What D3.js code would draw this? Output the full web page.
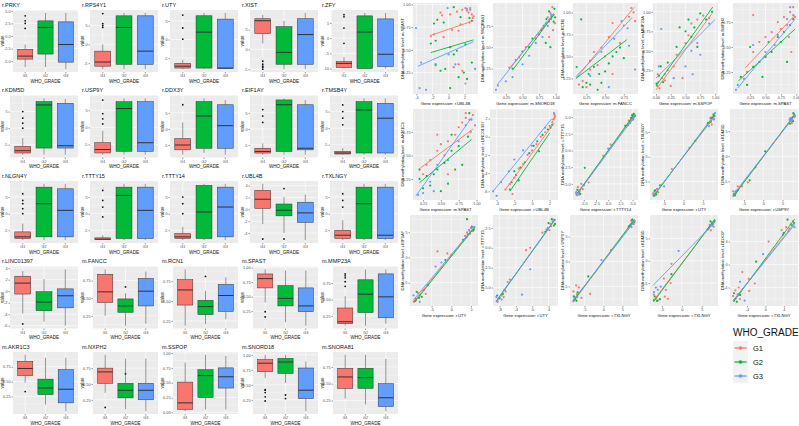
<!DOCTYPE html>
<html>
<head>
<meta charset="utf-8">
<script src="https://cdn.jsdelivr.net/npm/d3@7"></script>
<style>
  body { margin: 0; background: #fff; }
  svg { display: block; font-family: "Liberation Sans", Arial, sans-serif; }
</style>
</head>
<body>
<svg id="chart" width="799" height="426"></svg>
<script>
// ---- data ----
const groups = ["G1", "G2", "G3"];
const groupColors = ["#F8766D", "#00BA38", "#619CFF"];

const boxTitles = [
  "r.PRKY", "r.RPS4Y1", "r.UTY", "r.XIST", "r.ZFY",
  "r.KDM5D", "r.USP9Y", "r.DDX3Y", "r.EIF1AY", "r.TMSB4Y",
  "r.NLGN4Y", "r.TTTY15", "r.TTTY14", "r.UBL4B", "r.TXLNGY",
  "r.LINC01397", "m.FANCC", "m.RCN1", "m.SPAST", "m.MMP23A",
  "m.AKR1C3", "m.NXPH2", "m.SSPOP", "m.SNORD18", "m.SNORA81"
];

const boxTicks = [
  ["-5.0", "-2.5", "0.0", "2.5", "5.0"], ["-5", "0", "5"], ["-5", "0", "5"], ["-5", "0", "5", "10"], ["-10", "-5", "0", "5"],
  ["-5", "0", "5"], ["-5", "0", "5"], ["-5", "0", "5"], ["-5", "0", "5"], ["-5", "0", "5"],
  ["-5", "0", "5"], ["-5", "0", "5"], ["-5", "0", "5"], ["-4", "-2", "0", "2", "4"], ["-5", "0", "5"],
  ["-6", "-4", "-2", "0", "2", "4"], ["0.25", "0.50", "0.75"], ["0.25", "0.50", "0.75"], ["0.25", "0.50", "0.75", "1.00"], ["0.25", "0.50", "0.75"],
  ["0.25", "0.50", "0.75"], ["0.25", "0.50", "0.75"], ["0.00", "0.25", "0.50", "0.75", "1.00"], ["0.25", "0.50", "0.75", "1.00"], ["0.25", "0.50", "0.75"]
];

// [min whisker, q1, median, q3, max whisker] for G1, G2, G3
const boxStats = [
  [[-6.2, -4.6, -4.0, -2.65, -1.7], [-6.2, -3.6, 1.7, 3.0, 4.6], [-6.6, -5.2, -1.7, 2.8, 4.6]],
  [[-6.6, -5.8, -4.7, -1.8, 0.0], [-6.6, -5.3, 4.5, 7.6, 8.4], [-6.6, -5.3, -1.8, 7.6, 8.4]],
  [[-8, -7.7, -7.2, -6.4, -5.5], [-8, -7.7, 2, 6.4, 7.2], [-8, -7.8, -7.7, 5.5, 7.2]],
  [[1.5, 4, 7.25, 7.75, 8.75], [-5, -3.75, -0.75, 5.75, 7.2], [-5, -3.75, 3.75, 7.75, 9.25]],
  [[-10, -9.7, -8.3, -7.7, -6.3], [-10.2, -10, 2, 7.3, 8.3], [-10, -9.3, -5.3, 6.3, 8.3]],
  [[-8, -7.5, -6.8, -5.5, -3], [-8, -6, 7, 8, 9], [-8, -6, -5.3, 7.5, 8.8]],
  [[-8, -7.5, -6.5, -4.5, -1], [-8, -7, 5.5, 7.5, 8.5], [-8, -7, -4.5, 7.5, 8.5]],
  [[-8, -6.5, -5, -3, 2], [-7.5, -6, 4, 8.5, 9.5], [-8, -6, 1, 7.5, 9]],
  [[-8, -7.5, -7, -6, -4.5], [-8, -7, 7.5, 9, 9.5], [-8, -6.5, -6, 7.5, 9]],
  [[-8, -7.8, -7.5, -7, -6], [-8, -7.5, 5.5, 8, 9], [-8, -7.5, 3, 7.5, 9]],
  [[-8, -7.5, -7, -5.5, -3], [-8, -7, 3, 8, 9], [-8, -7, 1, 7.5, 9]],
  [[-8, -7.8, -7.7, -7.3, -6.5], [-8, -7.5, 5.5, 8, 9], [-8, -7.5, 1, 8, 9]],
  [[-8, -7.5, -7, -6, -4], [-8, -7.5, 0.5, 8.5, 9], [-8, -7, 2, 8, 9]],
  [[-2.5, 0.15, 1.7, 3.2, 4.3], [-4, -1.1, -0.15, 0.9, 2.1], [-5.2, -2.2, -0.6, 1.2, 2.5]],
  [[-8, -7.5, -6.5, -5, -2], [-8, -7.5, 3, 8, 9], [-8, -7.5, -6.5, 8, 9]],
  [[-3.9, -0.5, 1.4, 2.6, 3.5], [-5.3, -3.4, -1.9, -0.1, 2.1], [-6, -2.9, -0.8, 0.4, 3.8]],
  [[0.25, 0.44, 0.59, 0.84, 0.91], [0.11, 0.30, 0.39, 0.49, 0.57], [0.14, 0.39, 0.60, 0.78, 0.88]],
  [[0.19, 0.45, 0.64, 0.77, 0.90], [0.21, 0.33, 0.43, 0.51, 0.63], [0.27, 0.37, 0.57, 0.71, 0.80]],
  [[0.40, 0.65, 0.81, 0.89, 0.97], [0.06, 0.34, 0.47, 0.69, 0.95], [0.0, 0.24, 0.34, 0.65, 0.95]],
  [[0.10, 0.13, 0.16, 0.37, 0.55], [0.10, 0.30, 0.58, 0.80, 0.96], [0.13, 0.22, 0.54, 0.89, 0.96]],
  [[0.48, 0.60, 0.72, 0.84, 0.95], [0.11, 0.28, 0.39, 0.54, 0.90], [0.0, 0.14, 0.37, 0.70, 0.90]],
  [[0.36, 0.51, 0.69, 0.75, 0.96], [0.10, 0.28, 0.40, 0.51, 0.90], [0.07, 0.25, 0.40, 0.51, 0.90]],
  [[0.02, 0.05, 0.16, 0.51, 0.84], [0.05, 0.25, 0.62, 0.72, 0.97], [0.05, 0.41, 0.60, 0.75, 0.95]],
  [[0.61, 0.72, 0.86, 0.92, 1.0], [0.53, 0.69, 0.88, 0.94, 1.0], [0.06, 0.27, 0.41, 0.78, 0.89]],
  [[0.28, 0.43, 0.60, 0.73, 0.93], [0.19, 0.43, 0.59, 0.73, 0.93], [0.09, 0.16, 0.29, 0.50, 0.87]]
];

const boxOutliers = [
  [[4.0, 3.0, 2.5, 1.5], [], []],
  [[8.2, 5.5, 5.0, 4.5], [], []],
  [[6.6, 3.1, 0.1], [], []],
  [[-3, -3.75, -4.25, -4.5, -5], [], []],
  [[7.7, 7.0, 3.3, -1.7], [], []],
  [[5, 3, 1.5, 0], [], []],
  [[8, 4, 2.5, 1], [], []],
  [[7.5], [], []],
  [[6, 4, 2], [], []],
  [[7, 5, 3, 1], [], []],
  [[6, 4, 3, 1.5, 0], [], []],
  [[7, 4, 2, -1], [], []],
  [[5, 3, 0], [], []],
  [[-5.0], [3.5, -5], []],
  [[6, 4, 2], [], []],
  [[-5.7], [], []],
  [[], [0.66], []],
  [[], [0.81], []],
  [[0.24, 0.15], [], []],
  [[0.89, 0.86, 0.83, 0.77, 0.70], [], []],
  [[0.33], [], []],
  [[0.13], [0.66], []],
  [[], [], []],
  [[0.42, 0.41, 0.37, 0.30, 0.23], [0.33, 0.27], []],
  [[], [], []]
];

const scatterYNames = [
  "m.SPAST", "m.SNORA81", "m.RCN1", "m.MMP23A", "m.NXPH2",
  "m.AKR1C3", "r.LINC01397", "r.TTTY15", "r.TXLNGY", "r.KDM5D",
  "r.EIF1AY", "r.TTTY15", "r.USP9Y", "r.KDM5D", "r.DDX3Y"
];
const scatterXNames = [
  "r.UBL4B", "m.SNORD18", "m.FANCC", "m.SSPOP", "m.SPAST",
  "m.SPAST", "r.UBL4B", "r.TTTY14", "r.UTY", "r.USP9Y",
  "r.UTY", "r.UTY", "r.TXLNGY", "r.TXLNGY", "r.TXLNGY"
];
const scatterXTicks = [
  ["-4", "-2", "0", "2"], ["0.25", "0.50", "0.75", "1.00"], ["0.25", "0.50", "0.75"], ["0.00", "0.25", "0.50", "0.75", "1.00"], ["0.25", "0.50", "0.75", "1.00"],
  ["0.25", "0.50", "0.75", "1.00"], ["-4", "-2", "0", "2"], ["-5.0", "-2.5", "0.0", "2.5", "5.0"], ["-5", "0", "5"], ["-5", "0", "5"],
  ["-5", "0", "5"], ["-8", "-4", "0", "4"], ["-5", "0", "5"], ["-5", "0", "5"], ["-4", "0", "4"]
];
const scatterYTicks = [
  ["0.25", "0.50", "0.75", "1.00"], ["0.25", "0.50", "0.75"], ["0.25", "0.50", "0.75", "1.00"], ["0.25", "0.50", "0.75", "1.00"], ["0.25", "0.50", "0.75"],
  ["0.25", "0.50", "0.75"], ["-6", "-4", "-2", "0", "2"], ["-5.0", "-2.5", "0.0", "2.5", "5.0"], ["-5", "0", "5"], ["-5", "0", "5"],
  ["-5", "0", "5"], ["-5.0", "-2.5", "0.0", "2.5"], ["-5", "0", "5"], ["-5", "0", "5"], ["-4", "0", "4"]
];

// [gene expression, methylation, group index]
const scatterPoints = [
  [[-1.0,0.91,0],[-0.8,0.88,0],[0.2,0.89,0],[1.05,0.92,0],[1.7,0.94,0],[2.3,0.93,0],[2.5,0.91,0],[2.9,0.89,0],[3.1,0.87,0],[2.7,0.96,0],[2.1,0.96,0],[-1.8,0.67,0],[-2.2,0.65,0],[0.45,0.72,0],[1.25,0.71,0],[1.5,0.78,0],[-0.6,0.64,0],[1.25,0.34,0],[0.65,0.31,0],[1.7,0.27,0],[2.1,0.13,0],[3.0,0.85,0],[2.6,0.80,0],
   [0.65,0.97,1],[-1.4,0.83,1],[-0.6,0.80,1],[1.5,0.86,1],[2.6,0.85,1],[-1.8,0.79,1],[2.9,0.82,1],[-1.6,0.60,1],[-2.2,0.57,1],[0.2,0.53,1],[0.65,0.45,1],[1.05,0.49,1],[2.1,0.56,1],[2.9,0.36,1],[-1.6,0.34,1],[-1.0,0.27,1],[-0.4,0.29,1],[0.2,0.08,1],[1.9,0.25,1],[2.3,0.18,1],[1.25,0.20,1],
   [-0.1,0.96,2],[2.3,0.95,2],[2.7,0.94,2],[-4.05,0.74,2],[-3.4,0.36,2],[-2.8,0.06,2],[0.0,0.45,2],[0.85,0.34,2],[3.3,0.29,2],[-1.6,0.33,2],[-3.6,0.08,2]],
  [[0.95,0.97,0],[0.92,0.9,0],[0.88,0.85,0],[0.97,0.88,0],[0.9,0.8,0],[0.85,0.78,0],[0.93,0.83,0],[0.8,0.72,0],[0.75,0.65,0],[0.7,0.6,0],[0.55,0.5,0],[0.45,0.38,0],[0.3,0.26,0],[0.96,0.7,0],[0.9,0.62,0],[0.99,0.78,0],
   [0.98,0.95,1],[0.94,0.86,1],[0.9,0.92,1],[0.86,0.83,1],[0.97,0.8,1],[0.82,0.75,1],[0.78,0.7,1],[0.65,0.6,1],[0.6,0.5,1],[0.5,0.45,1],[0.4,0.35,1],[0.35,0.25,1],[0.99,0.85,1],[0.85,0.55,1],[0.92,0.5,1],
   [0.93,0.88,2],[0.88,0.75,2],[0.7,0.55,2],[0.5,0.3,2],[0.35,0.15,2],[0.13,0.05,2],[0.1,0.0,2],[0.25,0.1,2],[0.6,0.4,2],[0.8,0.62,2]],
  [[0.85,1.05,0],[0.88,1.0,0],[0.82,0.95,0],[0.9,0.9,0],[0.6,0.88,0],[0.55,0.72,0],[0.75,0.85,0],[0.45,0.6,0],[0.35,0.55,0],[0.4,0.4,0],[0.3,0.35,0],[0.2,0.22,0],[0.25,0.15,0],[0.6,0.3,0],[0.7,0.65,0],[0.5,0.5,0],[0.15,0.18,0],
   [0.18,0.92,1],[0.3,0.45,1],[0.35,0.38,1],[0.42,0.3,1],[0.5,0.33,1],[0.55,0.42,1],[0.6,0.5,1],[0.65,0.55,1],[0.7,0.6,1],[0.25,0.2,1],[0.2,0.15,1],[0.3,0.18,1],[0.4,0.12,1],[0.45,0.2,1],[0.12,0.38,1],[0.75,0.48,1],[0.28,0.3,1],
   [0.72,0.9,2],[0.8,0.82,2],[0.62,0.7,2],[0.45,0.55,2],[0.3,0.28,2],[0.9,0.35,2],[0.55,0.15,2],[0.82,0.62,2]],
  [[0.02,0.05,0],[0.04,0.1,0],[0.06,0.02,0],[0.1,0.15,0],[0.03,0.2,0],[0.15,0.12,0],[0.2,0.25,0],[0.3,0.3,0],[0.35,0.45,0],[0.5,0.6,0],[0.55,0.7,0],[0.6,0.85,0],[0.7,0.9,0],[0.8,0.95,0],[0.9,0.92,0],[0.45,0.15,0],[0.25,0.05,0],
   [0.01,0.08,1],[0.05,0.18,1],[0.08,0.3,1],[0.12,0.1,1],[0.35,0.55,1],[0.4,0.8,1],[0.5,0.75,1],[0.6,0.68,1],[0.65,0.8,1],[0.7,0.55,1],[0.85,0.9,1],[0.95,1.0,1],[0.75,0.98,1],[0.55,0.9,1],[0.2,0.35,1],
   [0.09,0.78,2],[0.05,0.3,2],[0.3,0.15,2],[0.5,0.3,2],[0.6,0.5,2],[0.7,0.6,2],[0.75,0.45,2],[0.9,0.85,2],[0.62,0.2,2],[0.15,0.2,2]],
  [[0.2,0.25,0],[0.3,0.45,0],[0.4,0.55,0],[0.5,0.6,0],[0.6,0.65,0],[0.7,0.75,0],[0.75,0.68,0],[0.8,0.8,0],[0.85,0.72,0],[0.9,0.85,0],[0.95,0.9,0],[0.98,0.8,0],[0.88,0.6,0],[0.92,0.45,0],[0.3,0.82,0],[0.65,0.52,0],
   [0.1,0.2,1],[0.2,0.12,1],[0.3,0.3,1],[0.4,0.35,1],[0.5,0.4,1],[0.55,0.55,1],[0.6,0.45,1],[0.7,0.6,1],[0.75,0.55,1],[0.8,0.65,1],[0.9,0.72,1],[0.95,0.78,1],[0.45,0.2,1],[0.25,0.5,1],[0.85,0.35,1],
   [0.02,0.07,2],[0.05,0.12,2],[0.15,0.18,2],[0.3,0.52,2],[0.5,0.45,2],[0.7,0.62,2],[0.85,0.78,2],[0.95,0.82,2],[0.9,0.9,2]],
  [[0.95,0.93,0],[0.9,0.88,0],[0.85,0.9,0],[0.8,0.85,0],[0.75,0.8,0],[0.98,0.82,0],[0.92,0.75,0],[0.7,0.72,0],[0.6,0.65,0],[0.5,0.62,0],[0.45,0.55,0],[0.55,0.5,0],[0.35,0.45,0],[0.3,0.4,0],[0.25,0.3,0],[0.6,0.3,0],[0.85,0.95,0],[0.45,0.72,0],
   [0.9,0.95,1],[0.88,0.7,1],[0.75,0.6,1],[0.65,0.55,1],[0.55,0.42,1],[0.45,0.35,1],[0.4,0.3,1],[0.3,0.28,1],[0.2,0.25,1],[0.25,0.15,1],[0.35,0.18,1],[0.5,0.12,1],[0.6,0.2,1],[0.7,0.35,1],[0.8,0.4,1],[0.2,0.35,1],[0.65,0.72,1],
   [0.93,0.88,2],[0.85,0.82,2],[0.6,0.45,2],[0.45,0.4,2],[0.35,0.22,2],[0.25,0.1,2],[0.18,0.08,2],[0.4,0.12,2],[0.75,0.65,2]],
  [[2.5,2.0,0],[2.3,1.6,0],[2.6,2.2,0],[2.0,1.2,0],[1.5,0.5,0],[1.0,0,0],[0.5,-0.8,0],[0,-1.5,0],[-0.5,-2,0],[-1,-3,0],[-1.5,-3.5,0],[-2,-4.5,0],[-2.5,-5.2,0],[-3,-5.8,0],[-2.2,-6.3,0],[2.4,1.9,0],[2.55,2.4,0],
   [2.3,1.3,1],[1.8,0.8,1],[1.2,0.2,1],[0.6,-0.5,1],[0.2,-1,1],[-0.3,-1.8,1],[-0.8,-2.8,1],[-1.3,-3.4,1],[-1.8,-4.2,1],[-2.3,-5,1],[-2.5,-5.8,1],[-1.5,-4.8,1],[0.8,-1.6,1],[2.1,1.0,1],[-2.0,-3.8,1],
   [2.5,2.6,2],[1.5,1.0,2],[-1,-1.5,2],[-2,-2.5,2],[-3.5,-5,2],[-4.4,-6,2],[-4,-6.5,2],[0,-1,2],[-2.6,-3.8,2]],
  [[5.0,5.1,0],[4.6,4.4,0],[4.8,4.9,0],[5.3,5.0,0],[4.2,4.5,0],[0.5,0.9,0],[-1,-0.8,0],[-5.8,-6.0,0],[-6.2,-5.5,0],[-5.5,-5.0,0],[-6.5,-6.2,0],[-4.0,-4.8,0],[-6.0,-6.6,0],[-5.2,-5.8,0],[4.9,4.6,0],
   [5.2,5.5,1],[4.7,4.9,1],[4.4,4.1,1],[5.5,5.2,1],[4.9,5.3,1],[4.0,3.8,1],[-4.8,-2.6,1],[-6.0,-6.3,1],[-6.3,-5.9,1],[-5.7,-6.5,1],[-5.0,-5.2,1],[3.5,3.7,1],[5.1,4.7,1],
   [5.3,5.0,2],[4.5,4.3,2],[5.0,4.6,2],[-6.4,-6.7,2],[-5.9,-6.1,2],[-6.6,-6.4,2],[0.0,0.3,2]],
  [[7.5,8.0,0],[7.0,7.2,0],[7.8,7.6,0],[6.8,7.8,0],[7.2,6.5,0],[6.5,6.8,0],[1.5,1.8,0],[-7.5,-7.0,0],[-7.2,-7.8,0],[-6.8,-6.5,0],[-7.8,-7.4,0],[-6.5,-7.2,0],[-3.0,-2.5,0],
   [7.6,8.5,1],[7.1,7.9,1],[6.9,7.0,1],[7.9,8.2,1],[6.2,6.8,1],[3.0,3.2,1],[-7.0,-7.6,1],[-7.6,-7.9,1],[-6.0,-5.8,1],[-7.3,-6.8,1],
   [7.7,7.5,2],[8.0,8.8,2],[7.3,7.8,2],[6.5,6.2,2],[-7.4,-7.5,2],[-6.9,-7.1,2],[-7.7,-7.8,2],[-5.0,-6.0,2]],
  [[7.6,7.8,0],[7.2,7.0,0],[8.0,8.4,0],[6.8,7.3,0],[7.4,6.6,0],[-7.5,-7.6,0],[-7.0,-7.3,0],[-6.6,-6.0,0],[-7.8,-7.0,0],[-5.5,-6.0,0],[-4.0,-5.2,0],
   [7.8,8.6,1],[7.3,7.5,1],[8.1,7.9,1],[6.9,6.5,1],[7.7,7.0,1],[-7.3,-7.8,1],[-7.6,-7.5,1],[-6.8,-6.9,1],[-3.5,-4.8,1],[0.5,1.0,1],
   [7.9,8.3,2],[7.5,7.3,2],[8.2,8.0,2],[7.0,7.6,2],[-7.2,-7.0,2],[-7.7,-7.9,2],[-6.5,-6.7,2],[-2.0,-2.2,2]],
  [[4,5,0],[4.5,5.5,0],[5,5.8,0],[3.5,4.3,0],[5.5,5.2,0],[4.8,4.7,0],[-3.5,1.2,0],[0,0.5,0],[-1,0.8,0],[-8,-7.5,0],[-9,-8.5,0],[-7,-6.5,0],[-8.5,-7.0,0],[-9.5,-8.8,0],[-6.5,-7.2,0],[5.8,6.0,0],
   [4,7.6,1],[4.2,4.6,1],[5.2,6.1,1],[3,3.5,1],[5.7,5.5,1],[-1.5,-0.5,1],[-8.2,-8.0,1],[-9.2,-8.6,1],[-7.5,-7.8,1],[-6,-5.5,1],[-8.8,-6.8,1],
   [4.6,5.3,2],[5.4,6.0,2],[3.8,4.0,2],[-2.5,-1,2],[-4,-1.8,2],[-9,-8.2,2],[-8,-8.8,2],[-9.6,-7.5,2]],
  [[4.5,3.0,0],[5,3.3,0],[3.8,2.5,0],[5.5,3.5,0],[4.2,2.2,0],[2.5,1.9,0],[-0.5,0.0,0],[-1.5,-0.3,0],[-5.5,-4.0,0],[-6.5,-5.5,0],[-7.5,-6.0,0],[-8.3,-6.5,0],[-7,-6.2,0],[-8.7,-6.7,0],[-6,-4.3,0],
   [4.8,3.6,1],[5.3,2.8,1],[4.0,3.1,1],[3.2,2.0,1],[5.6,3.0,1],[-7.2,-5.8,1],[-8,-6.3,1],[-8.6,-6.0,1],[-6.8,-5.3,1],
   [4.6,2.7,2],[5.2,3.5,2],[3.5,2.3,2],[-0.5,-2.7,2],[-2.5,-5.9,2],[-7.5,-6.5,2],[-8.5,-6.8,2],[-8.8,-6.2,2]],
  [[7.5,7.8,0],[7.0,7.2,0],[8.0,7.5,0],[6.6,6.9,0],[7.3,8.2,0],[2.0,2.3,0],[-7.5,-7.2,0],[-7.0,-6.6,0],[-7.8,-7.8,0],[-6.5,-5.2,0],[-7.2,-4.8,0],[-5.8,-7.3,0],[-3.5,-6.5,0],[-7.9,-6.0,0],
   [7.6,8.4,1],[7.2,7.4,1],[8.1,7.9,1],[6.8,7.1,1],[-7.4,-7.6,1],[-7.8,-7.0,1],[-6.8,-6.2,1],[-7.1,-7.9,1],[-4.0,-3.0,1],
   [7.8,7.6,2],[7.4,6.9,2],[8.2,8.1,2],[-0.5,0.3,2],[-7.6,-7.4,2],[-6.9,-7.1,2],[-7.9,-8.0,2]],
  [[7.0,8.0,0],[7.5,8.5,0],[6.8,7.2,0],[8.0,7.6,0],[7.3,6.8,0],[-2.6,-0.7,0],[-4.5,-4,0],[-4,-6.5,0],[-4.3,-8,0],[-3.5,-8.5,0],[-2.8,-5,0],[-6.5,-8.5,0],[-7,-7.6,0],[-6,-8.9,0],
   [7.2,8.8,1],[7.8,8.2,1],[6.5,7.0,1],[8.2,8.9,1],[-2.6,-3,1],[-7.0,-8.8,1],[-6.2,-9,1],[-5.5,-8.6,1],[-6.8,-8.0,1],
   [7.6,7.8,2],[8.1,8.6,2],[6.9,7.5,2],[-0.8,2.2,2],[-6.5,-6,2],[-6,-6.5,2],[-7,-7.0,2],[-5.3,-5.8,2]],
  [[4.5,6.5,0],[5.5,7.0,0],[6.0,7.5,0],[3.5,6.0,0],[5.0,5.8,0],[0.7,4.0,0],[-5,-1.3,0],[-3.6,-2.5,0],[-2.3,-3.3,0],[-6.5,-4.5,0],[-6,-5.2,0],[-5.5,-6,0],[-7,-5.5,0],[-6.8,-6.3,0],[-5.8,-4,0],[-3.5,-4.6,0],
   [4.8,7.8,1],[5.8,6.8,1],[6.2,7.2,1],[4.0,5.5,1],[-2.0,0.5,1],[-6.8,-5.0,1],[-6.2,-6.5,1],[-5.5,-5.3,1],
   [5.2,6.2,2],[6.3,6.5,2],[3.8,5.2,2],[-0.5,1.8,2],[-5.5,-3,2],[-4.5,-6.3,2],[-6.5,-6.0,2]]
];

// fitted line ends per group: [x1, y1, x2, y2]
const scatterLines = [
  [[-2.2, 0.66, 3.1, 0.82], [-2.2, 0.47, 3.1, 0.61], [-3.8, 0.32, 3.1, 0.59]],
  [[0.31, 0.26, 0.97, 0.88], [0.35, 0.23, 0.97, 0.88], [0.12, 0.06, 0.97, 0.9]],
  [[0.11, 0.25, 0.89, 1.06], [0.11, 0.25, 0.79, 0.69], [0.11, 0.27, 0.86, 0.94]],
  [[0, 0.0, 0.95, 0.98], [0, 0.05, 0.96, 1.06], [0, 0.15, 1.0, 0.9]],
  [[0.17, 0.29, 0.98, 0.82], [0.06, 0.16, 0.98, 0.68], [0.05, 0.09, 0.98, 0.78]],
  [[0.2, 0.36, 0.95, 0.78], [0.2, 0.21, 0.93, 0.67], [0.15, 0.07, 0.93, 0.9]],
  [[-3.0, -5.8, 2.5, 1.5], [-2.5, -6.0, 2.0, 0.4], [-4.4, -6.0, 2.25, 2.0]],
  [[-6.5, -6.6, 5.5, 5.4], [-6.3, -6.4, 5.5, 5.6], [-6.6, -6.8, 5.3, 5.0]],
  [[-7.8, -7.9, 7.8, 8.0], [-7.6, -7.9, 7.9, 8.5], [-7.7, -7.8, 8.0, 8.3]],
  [[-7.8, -7.9, 8.1, 8.0], [-7.6, -7.9, 8.2, 8.4], [-7.7, -7.6, 8.2, 8.2]],
  [[-9.5, -8.7, 6, 6.1], [-9.3, -8.8, 6, 6.0], [-9.7, -8.5, 6, 6.2]],
  [[-8.8, -6.7, 5.6, 3.5], [-8.7, -6.6, 5.6, 3.6], [-8.9, -6.8, 5.5, 3.5]],
  [[-8, -8.1, 8.2, 8.2], [-7.9, -7.9, 8.2, 8.5], [-8, -7.8, 8.3, 8.1]],
  [[-7.2, -9.0, 8.2, 9.0], [-7.1, -9.2, 8.3, 9.3], [-7.2, -5.5, 8.2, 8.5]],
  [[-7, -6.3, 6.4, 7.3], [-6.9, -6.5, 6.3, 7.9], [-6.9, -6.2, 6.4, 7.0]]
];

// ---- drawing ----
const svg = d3.select("#chart");
const panelFill = "#EBEBEB";
const ink = "#333333";

function padded(ext) {
  const r = ext[1] - ext[0];
  return [ext[0] - r * 0.05, ext[1] + r * 0.05];
}

function inside(vals, domain) {
  return vals.filter((v) => v >= domain[0] - 1e-9 && v <= domain[1] + 1e-9);
}

function minorValues(vals, domain) {
  if (vals.length < 2) return [];
  const step = vals[1] - vals[0];
  return d3.range(vals[0] - step / 2, domain[1], step).filter((v) => v >= domain[0]);
}

function styleAxis(sel) {
  sel.select(".domain").remove();
  sel.attr("font-family", null).attr("font-size", null);
  sel.selectAll(".tick line").attr("stroke", ink).attr("stroke-width", 0.5);
  sel.selectAll(".tick text").attr("fill", "#4D4D4D").attr("font-size", 3.8);
}

function labelAxis(scale, labels, orient) {
  const vals = labels.map(Number);
  const keep = inside(vals, scale.domain());
  const gen = orient === "left" ? d3.axisLeft(scale) : d3.axisBottom(scale);
  return gen
    .tickValues(keep)
    .tickFormat((d) => labels[vals.indexOf(d)])
    .tickSize(1.5)
    .tickPadding(1);
}

function drawBoxPanel(i) {
  const col = i % 5, row = Math.floor(i / 5);
  const cx = col * 80, cy = row * 85.5;
  const labels = boxTicks[i];
  const left = cx + 7 + d3.max(labels, (d) => d.length) * 1.5;
  const right = cx + 78, top = cy + 10, bottom = cy + 72;

  const all = boxStats[i].flat().concat(boxOutliers[i].flat());
  const y = d3.scaleLinear().domain(padded(d3.extent(all))).range([bottom, top]);
  const x = d3.scaleBand().domain(groups).range([left, right])
    .paddingInner(0.25).paddingOuter(0.225);

  const g = svg.append("g");
  g.append("rect").attr("x", left).attr("y", top)
    .attr("width", right - left).attr("height", bottom - top).attr("fill", panelFill);

  const major = inside(labels.map(Number), y.domain());
  g.selectAll(".minor").data(minorValues(major, y.domain())).enter().append("line")
    .attr("x1", left).attr("x2", right).attr("y1", (d) => y(d)).attr("y2", (d) => y(d))
    .attr("stroke", "#fff").attr("stroke-width", 0.3);
  g.selectAll(".majorY").data(major).enter().append("line")
    .attr("x1", left).attr("x2", right).attr("y1", (d) => y(d)).attr("y2", (d) => y(d))
    .attr("stroke", "#fff").attr("stroke-width", 0.6);
  g.selectAll(".majorX").data(groups).enter().append("line")
    .attr("x1", (d) => x(d) + x.bandwidth() / 2).attr("x2", (d) => x(d) + x.bandwidth() / 2)
    .attr("y1", top).attr("y2", bottom)
    .attr("stroke", "#fff").attr("stroke-width", 0.6);

  // boxes
  boxStats[i].forEach((s, k) => {
    const gx = x(groups[k]), mid = gx + x.bandwidth() / 2;
    g.append("line").attr("x1", mid).attr("x2", mid).attr("y1", y(s[0])).attr("y2", y(s[1]))
      .attr("stroke", ink).attr("stroke-width", 0.5);
    g.append("line").attr("x1", mid).attr("x2", mid).attr("y1", y(s[3])).attr("y2", y(s[4]))
      .attr("stroke", ink).attr("stroke-width", 0.5);
    g.append("rect").attr("x", gx).attr("width", x.bandwidth())
      .attr("y", y(s[3])).attr("height", Math.max(0.5, y(s[1]) - y(s[3])))
      .attr("fill", groupColors[k]).attr("stroke", ink).attr("stroke-width", 0.5);
    g.append("line").attr("x1", gx).attr("x2", gx + x.bandwidth())
      .attr("y1", y(s[2])).attr("y2", y(s[2]))
      .attr("stroke", ink).attr("stroke-width", 1);
    g.selectAll(null).data(boxOutliers[i][k]).enter().append("circle")
      .attr("cx", mid).attr("cy", (d) => y(d)).attr("r", 0.9).attr("fill", "#111");
  });

  g.append("g").attr("transform", `translate(${left},0)`)
    .call(labelAxis(y, labels, "left")).call(styleAxis);
  g.append("g").attr("transform", `translate(0,${bottom})`)
    .call(d3.axisBottom(x).tickSize(1.5).tickPadding(1)).call(styleAxis);

  g.append("text").attr("x", cx + 2).attr("y", cy + 6.5).attr("font-size", 5.5)
    .attr("fill", "#111").text(boxTitles[i]);
  g.append("text").attr("x", (left + right) / 2).attr("y", cy + 82.5)
    .attr("text-anchor", "middle").attr("font-size", 4.6).attr("fill", "#111").text("WHO_GRADE");
  g.append("text").attr("transform", `translate(${cx + 4},${(top + bottom) / 2}) rotate(-90)`)
    .attr("text-anchor", "middle").attr("font-size", 4.6).attr("fill", "#111").text("value");
}

function drawScatterPanel(i) {
  const col = i % 5, row = Math.floor(i / 5);
  const cx = 400 + col * 80, cy = row * 106;
  const yLabels = scatterYTicks[i], xLabels = scatterXTicks[i];
  const left = cx + 7 + d3.max(yLabels, (d) => d.length) * 1.5;
  const right = cx + 78, top = cy + 3, bottom = cy + 94;

  const pts = scatterPoints[i], lines = scatterLines[i];
  const xs = pts.map((d) => d[0]).concat(lines.flatMap((l) => [l[0], l[2]]));
  const ys = pts.map((d) => d[1]).concat(lines.flatMap((l) => [l[1], l[3]]));
  const x = d3.scaleLinear().domain(padded(d3.extent(xs))).range([left, right]);
  const y = d3.scaleLinear().domain(padded(d3.extent(ys))).range([bottom, top]);

  const g = svg.append("g");
  g.append("rect").attr("x", left).attr("y", top)
    .attr("width", right - left).attr("height", bottom - top).attr("fill", panelFill);

  const majY = inside(yLabels.map(Number), y.domain());
  const majX = inside(xLabels.map(Number), x.domain());
  g.selectAll(null).data(minorValues(majY, y.domain())).enter().append("line")
    .attr("x1", left).attr("x2", right).attr("y1", (d) => y(d)).attr("y2", (d) => y(d))
    .attr("stroke", "#fff").attr("stroke-width", 0.3);
  g.selectAll(null).data(minorValues(majX, x.domain())).enter().append("line")
    .attr("y1", top).attr("y2", bottom).attr("x1", (d) => x(d)).attr("x2", (d) => x(d))
    .attr("stroke", "#fff").attr("stroke-width", 0.3);
  g.selectAll(null).data(majY).enter().append("line")
    .attr("x1", left).attr("x2", right).attr("y1", (d) => y(d)).attr("y2", (d) => y(d))
    .attr("stroke", "#fff").attr("stroke-width", 0.6);
  g.selectAll(null).data(majX).enter().append("line")
    .attr("y1", top).attr("y2", bottom).attr("x1", (d) => x(d)).attr("x2", (d) => x(d))
    .attr("stroke", "#fff").attr("stroke-width", 0.6);

  g.selectAll(null).data(pts).enter().append("circle")
    .attr("cx", (d) => x(d[0])).attr("cy", (d) => y(d[1])).attr("r", 1.1)
    .attr("fill", (d) => groupColors[d[2]]);
  g.selectAll(null).data(lines).enter().append("line")
    .attr("x1", (d) => x(d[0])).attr("y1", (d) => y(d[1]))
    .attr("x2", (d) => x(d[2])).attr("y2", (d) => y(d[3]))
    .attr("stroke", (d, k) => groupColors[k]).attr("stroke-width", 0.9);

  g.append("g").attr("transform", `translate(${left},0)`)
    .call(labelAxis(y, yLabels, "left")).call(styleAxis);
  g.append("g").attr("transform", `translate(0,${bottom})`)
    .call(labelAxis(x, xLabels, "bottom")).call(styleAxis);

  g.append("text").attr("x", (left + right) / 2).attr("y", bottom + 10.5)
    .attr("text-anchor", "middle").attr("font-size", 4.2).attr("fill", "#111")
    .text("Gene expression: " + scatterXNames[i]);
  g.append("text").attr("transform", `translate(${cx + 4},${(top + bottom) / 2}) rotate(-90)`)
    .attr("text-anchor", "middle").attr("font-size", 4.2).attr("fill", "#111")
    .text("DNA methylation level: " + scatterYNames[i]);
}

boxTitles.forEach((d, i) => drawBoxPanel(i));
scatterYNames.forEach((d, i) => drawScatterPanel(i));

// legend
const legend = svg.append("g").attr("transform", "translate(733,336)");
legend.append("text").attr("x", 0).attr("y", 0).attr("font-size", 10).attr("fill", "#111")
  .text("WHO_GRADE");
const keys = legend.selectAll(".key").data(groups).enter().append("g")
  .attr("transform", (d, k) => `translate(0,${5 + k * 14})`);
keys.append("rect").attr("width", 15).attr("height", 14).attr("fill", "#F2F2F2");
keys.append("line").attr("x1", 1.5).attr("x2", 13.5).attr("y1", 7).attr("y2", 7)
  .attr("stroke", (d, k) => groupColors[k]).attr("stroke-width", 1.3);
keys.append("circle").attr("cx", 7.5).attr("cy", 7).attr("r", 1.8)
  .attr("fill", (d, k) => groupColors[k]);
keys.append("text").attr("x", 20).attr("y", 10).attr("font-size", 7.5).attr("fill", "#111")
  .text((d) => d);
</script>
</body>
</html>
